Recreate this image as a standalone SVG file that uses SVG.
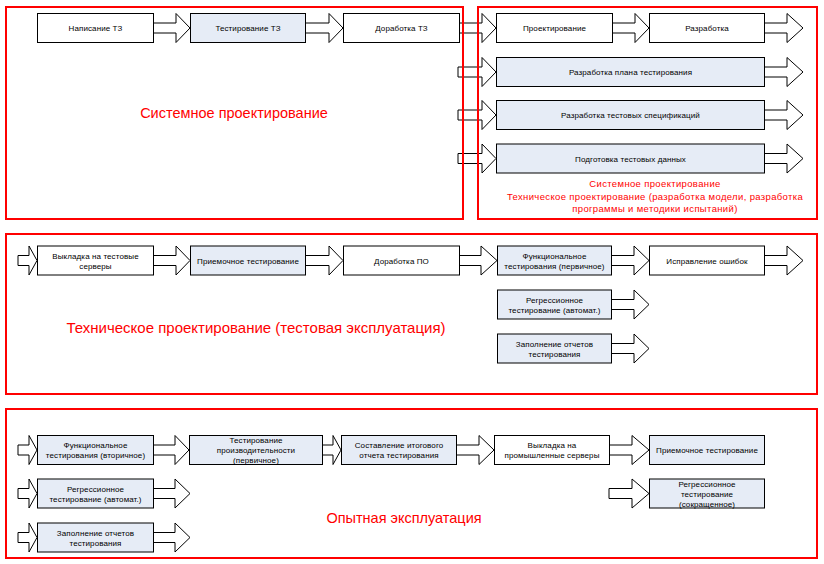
<svg xmlns="http://www.w3.org/2000/svg" width="824" height="564" viewBox="0 0 824 564">
<style>
.w{fill:#fff;stroke:#000;stroke-width:1}
.b{fill:#E6ECF6;stroke:#000;stroke-width:1}
.a{fill:#fff;stroke:#000;stroke-width:1}
.t{font-family:"Liberation Sans",Arial,sans-serif;font-size:8px;fill:#000;text-anchor:middle;letter-spacing:0.1px}
.fr{fill:none;stroke:#FF0000;stroke-width:2}
.rl{font-family:"Liberation Sans",Arial,sans-serif;font-size:14.5px;fill:#FF0000;text-anchor:middle}
.rs{font-family:"Liberation Sans",Arial,sans-serif;font-size:9.5px;fill:#FF0000;text-anchor:middle;letter-spacing:0.35px}
</style>
<rect width="824" height="564" fill="#fff"/>
<g id="connectors">
<polygon class="a" points="153.5,23 176,23 176,13.5 190,28 176,42.5 176,33 153.5,33"/>
<polygon class="a" points="305.5,23 329,23 329,13.5 343,28 329,42.5 329,33 305.5,33"/>
<polygon class="a" points="459.5,23 482,23 482,13.5 496,28 482,42.5 482,33 459.5,33"/>
<polygon class="a" points="612.5,23 635,23 635,13.5 649,28 635,42.5 635,33 612.5,33"/>
<polygon class="a" points="764.5,23 787,23 787,13.5 803,28 787,42.5 787,33 764.5,33"/>
<polygon class="a" points="458,67 482,67 482,57.5 496,72 482,86.5 482,77 458,77"/>
<polygon class="a" points="764.5,67 787,67 787,57.5 803,72 787,86.5 787,77 764.5,77"/>
<polygon class="a" points="458,110 482,110 482,100.5 496,115 482,129.5 482,120 458,120"/>
<polygon class="a" points="764.5,110 787,110 787,100.5 803,115 787,129.5 787,120 764.5,120"/>
<polygon class="a" points="458,153.5 482,153.5 482,144 496,158.5 482,173 482,163.5 458,163.5"/>
<polygon class="a" points="764.5,153.5 787,153.5 787,144 803,158.5 787,173 787,163.5 764.5,163.5"/>
<polygon class="a" points="18,255.5 29,255.5 29,246 37,260.5 29,275 29,265.5 18,265.5"/>
<polygon class="a" points="153.5,255.5 176,255.5 176,246 190,260.5 176,275 176,265.5 153.5,265.5"/>
<polygon class="a" points="305.5,255.5 329,255.5 329,246 343,260.5 329,275 329,265.5 305.5,265.5"/>
<polygon class="a" points="459.5,255.5 481,255.5 481,246 497,260.5 481,275 481,265.5 459.5,265.5"/>
<polygon class="a" points="611.5,255.5 634,255.5 634,246 649,260.5 634,275 634,265.5 611.5,265.5"/>
<polygon class="a" points="764.5,255.5 787,255.5 787,246 803,260.5 787,275 787,265.5 764.5,265.5"/>
<polygon class="a" points="611.5,299.5 634,299.5 634,290 649,304.5 634,319 634,309.5 611.5,309.5"/>
<polygon class="a" points="611.5,343.5 634,343.5 634,334 649,348.5 634,363 634,353.5 611.5,353.5"/>
<polygon class="a" points="18,445 29,445 29,435.5 37,450 29,464.5 29,455 18,455"/>
<polygon class="a" points="153.5,445 175,445 175,435.5 189,450 175,464.5 175,455 153.5,455"/>
<polygon class="a" points="322.5,445 333,445 333,435.5 341,450 333,464.5 333,455 322.5,455"/>
<polygon class="a" points="456.5,445 479,445 479,435.5 494,450 479,464.5 479,455 456.5,455"/>
<polygon class="a" points="609.5,445 632,445 632,435.5 649,450 632,464.5 632,455 609.5,455"/>
<polygon class="a" points="18,488.5 29,488.5 29,479 37,493.5 29,508 29,498.5 18,498.5"/>
<polygon class="a" points="153.5,488.5 175,488.5 175,479 190,493.5 175,508 175,498.5 153.5,498.5"/>
<polygon class="a" points="609,488.5 632,488.5 632,479 649,493.5 632,508 632,498.5 609,498.5"/>
<polygon class="a" points="18,532.5 29,532.5 29,523 37,537.5 29,552 29,542.5 18,542.5"/>
<polygon class="a" points="153.5,532.5 175,532.5 175,523 190,537.5 175,552 175,542.5 153.5,542.5"/>
</g>
<g id="frames">
<rect class="fr" x="6" y="7" width="457" height="212"/>
<rect class="fr" x="478" y="7" width="339" height="212"/>
<rect class="fr" x="6" y="234" width="811" height="160"/>
<rect class="fr" x="6" y="409" width="811" height="149"/>
<text class="rl" x="234" y="118">Системное проектирование</text>
<text class="rs" x="655" y="187">Системное проектирование</text>
<text class="rs" x="655" y="200">Техническое проектирование (разработка модели, разработка</text>
<text class="rs" x="655" y="212">программы и методики испытаний)</text>
<text class="rl" x="256" y="333" style="font-size:15px">Техническое проектирование (тестовая эксплуатация)</text>
<text class="rl" x="404" y="523">Опытная эксплуатация</text>
</g>
<g id="n1"><rect class="w" x="37.5" y="13.5" width="116" height="29"/><text class="t" x="95.5" y="31">Написание ТЗ</text></g>
<g id="n2"><rect class="b" x="190.5" y="13.5" width="115" height="29"/><text class="t" x="248" y="31">Тестирование ТЗ</text></g>
<g id="n3"><rect class="w" x="343.5" y="13.5" width="116" height="29"/><text class="t" x="401.5" y="31">Доработка ТЗ</text></g>
<g id="n4"><rect class="w" x="496.5" y="13.5" width="116" height="29"/><text class="t" x="554.5" y="31">Проектирование</text></g>
<g id="n5"><rect class="w" x="649.5" y="13.5" width="115" height="29"/><text class="t" x="707" y="31">Разработка</text></g>
<g id="n6"><rect class="b" x="496.5" y="57.5" width="268" height="29"/><text class="t" x="630.5" y="75">Разработка плана тестирования</text></g>
<g id="n7"><rect class="b" x="496.5" y="100.5" width="268" height="29"/><text class="t" x="630.5" y="118">Разработка тестовых спецификаций</text></g>
<g id="n8"><rect class="b" x="496.5" y="144" width="268" height="29"/><text class="t" x="630.5" y="161.5">Подготовка тестовых данных</text></g>
<g id="n9"><rect class="w" x="37.5" y="246" width="116" height="29"/><text class="t" x="95.5" y="258.5">Выкладка на тестовые</text><text class="t" x="95.5" y="268.5">серверы</text></g>
<g id="n10"><rect class="b" x="190.5" y="246" width="115" height="29"/><text class="t" x="248" y="263.5">Приемочное тестирование</text></g>
<g id="n11"><rect class="w" x="343.5" y="246" width="116" height="29"/><text class="t" x="401.5" y="263.5">Доработка ПО</text></g>
<g id="n12"><rect class="b" x="497.5" y="246" width="114" height="29"/><text class="t" x="554.5" y="258.5">Функциональное</text><text class="t" x="554.5" y="268.5">тестирования (первичное)</text></g>
<g id="n13"><rect class="w" x="649.5" y="246" width="115" height="29"/><text class="t" x="707" y="263.5">Исправление ошибок</text></g>
<g id="n14"><rect class="b" x="497.5" y="290" width="114" height="29"/><text class="t" x="554.5" y="302.5">Регрессионное</text><text class="t" x="554.5" y="312.5">тестирование (автомат.)</text></g>
<g id="n15"><rect class="b" x="497.5" y="334" width="114" height="29"/><text class="t" x="554.5" y="346.5">Заполнение отчетов</text><text class="t" x="554.5" y="356.5">тестирования</text></g>
<g id="n16"><rect class="b" x="37.5" y="435.5" width="116" height="29"/><text class="t" x="95.5" y="448">Функциональное</text><text class="t" x="95.5" y="458">тестирования (вторичное)</text></g>
<g id="n17"><rect class="b" x="189.5" y="435.5" width="133" height="29"/><text class="t" x="256" y="443">Тестирование</text><text class="t" x="256" y="453">производительности</text><text class="t" x="256" y="463">(первичное)</text></g>
<g id="n18"><rect class="b" x="341.5" y="435.5" width="115" height="29"/><text class="t" x="399" y="448">Составление итогового</text><text class="t" x="399" y="458">отчета тестирования</text></g>
<g id="n19"><rect class="w" x="494.5" y="435.5" width="115" height="29"/><text class="t" x="552" y="448">Выкладка на</text><text class="t" x="552" y="458">промышленные серверы</text></g>
<g id="n20"><rect class="b" x="649.5" y="435.5" width="115" height="29"/><text class="t" x="707" y="453">Приемочное тестирование</text></g>
<g id="n21"><rect class="b" x="649.5" y="479" width="115" height="29"/><text class="t" x="707" y="486.5">Регрессионное</text><text class="t" x="707" y="496.5">тестирование</text><text class="t" x="707" y="506.5">(сокращенное)</text></g>
<g id="n22"><rect class="b" x="37.5" y="479" width="116" height="29"/><text class="t" x="95.5" y="491.5">Регрессионное</text><text class="t" x="95.5" y="501.5">тестирование (автомат.)</text></g>
<g id="n23"><rect class="b" x="37.5" y="523" width="116" height="29"/><text class="t" x="95.5" y="535.5">Заполнение отчетов</text><text class="t" x="95.5" y="545.5">тестирования</text></g>
</svg>
